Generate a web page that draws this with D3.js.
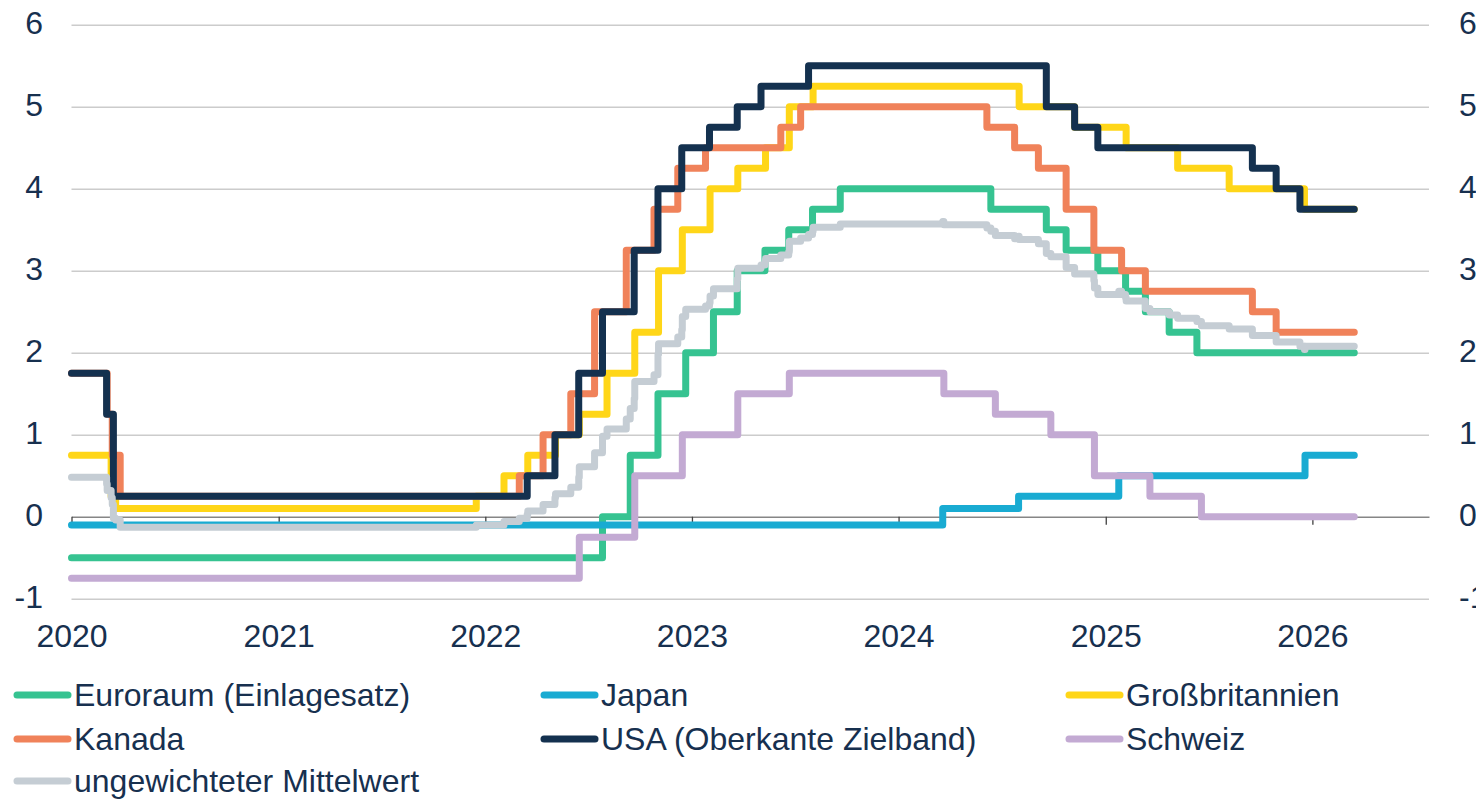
<!DOCTYPE html>
<html>
<head>
<meta charset="utf-8">
<script src="https://cdn.jsdelivr.net/npm/d3@7"></script>
<style>
  body { margin: 0; background: #fff; }
  svg text { font-family: 'Liberation Sans', Arial, sans-serif; fill: #17304f; }
</style>
</head>
<body>
<svg id="chart"></svg>
<script>
const d3 = window.d3

// policy rates in %, [date of change, new rate]
const euroRates = [
  ['2020-01-01', -0.5], ['2022-07-27', 0], ['2022-09-14', 0.75], ['2022-11-02', 1.5],
  ['2022-12-21', 2], ['2023-02-08', 2.5], ['2023-03-22', 3], ['2023-05-10', 3.25],
  ['2023-06-21', 3.5], ['2023-08-02', 3.75], ['2023-09-20', 4], ['2024-06-12', 3.75],
  ['2024-09-18', 3.5], ['2024-10-23', 3.25], ['2024-12-18', 3], ['2025-02-05', 2.75],
  ['2025-03-12', 2.5], ['2025-04-23', 2.25], ['2025-06-11', 2]
]
const japanRates = [
  ['2020-01-01', -0.1], ['2024-03-19', 0.1], ['2024-07-31', 0.25], ['2025-01-24', 0.5],
  ['2025-12-19', 0.75]
]
const ukRates = [
  ['2020-01-01', 0.75], ['2020-03-11', 0.25], ['2020-03-19', 0.1], ['2021-12-16', 0.25],
  ['2022-02-03', 0.5], ['2022-03-17', 0.75], ['2022-05-05', 1], ['2022-06-16', 1.25],
  ['2022-08-04', 1.75], ['2022-09-22', 2.25], ['2022-11-03', 3], ['2022-12-15', 3.5],
  ['2023-02-02', 4], ['2023-03-23', 4.25], ['2023-05-11', 4.5], ['2023-06-22', 5],
  ['2023-08-03', 5.25], ['2024-08-01', 5], ['2024-11-07', 4.75], ['2025-02-06', 4.5],
  ['2025-05-08', 4.25], ['2025-08-07', 4], ['2025-12-18', 3.75]
]
const canadaRates = [
  ['2020-01-01', 1.75], ['2020-03-04', 1.25], ['2020-03-13', 0.75], ['2020-03-27', 0.25],
  ['2022-03-02', 0.5], ['2022-04-13', 1], ['2022-06-01', 1.5], ['2022-07-13', 2.5],
  ['2022-09-07', 3.25], ['2022-10-26', 3.75], ['2022-12-07', 4.25], ['2023-01-25', 4.5],
  ['2023-06-07', 4.75], ['2023-07-12', 5], ['2024-06-05', 4.75], ['2024-07-24', 4.5],
  ['2024-09-04', 4.25], ['2024-10-23', 3.75], ['2024-12-11', 3.25], ['2025-01-29', 3],
  ['2025-03-12', 2.75], ['2025-09-17', 2.5], ['2025-10-29', 2.25]
]
const usaRates = [
  ['2020-01-01', 1.75], ['2020-03-03', 1.25], ['2020-03-15', 0.25], ['2022-03-16', 0.5],
  ['2022-05-04', 1], ['2022-06-15', 1.75], ['2022-07-27', 2.5], ['2022-09-21', 3.25],
  ['2022-11-02', 4], ['2022-12-14', 4.5], ['2023-02-01', 4.75], ['2023-03-22', 5],
  ['2023-05-03', 5.25], ['2023-07-26', 5.5], ['2024-09-18', 5], ['2024-11-07', 4.75],
  ['2024-12-18', 4.5], ['2025-09-17', 4.25], ['2025-10-29', 4], ['2025-12-10', 3.75]
]
const swissRates = [
  ['2020-01-01', -0.75], ['2022-06-16', -0.25], ['2022-09-22', 0.5], ['2022-12-15', 1],
  ['2023-03-23', 1.5], ['2023-06-22', 1.75], ['2024-03-21', 1.5], ['2024-06-20', 1.25],
  ['2024-09-26', 1], ['2024-12-12', 0.5], ['2025-03-20', 0.25], ['2025-06-19', 0]
]
// unweighted mean of the six rates, read at every change date
const meanRates = [
  ['2020-01-01', 0.48], ['2020-03-03', 0.40], ['2020-03-04', 0.32], ['2020-03-11', 0.23],
  ['2020-03-13', 0.15], ['2020-03-15', -0.02], ['2020-03-19', -0.04], ['2020-03-27', -0.13],
  ['2021-12-16', -0.10], ['2022-02-03', -0.06], ['2022-03-02', -0.02], ['2022-03-16', 0.03],
  ['2022-03-17', 0.07], ['2022-04-13', 0.15], ['2022-05-04', 0.23], ['2022-05-05', 0.28],
  ['2022-06-01', 0.36], ['2022-06-15', 0.48], ['2022-06-16', 0.61], ['2022-07-13', 0.78],
  ['2022-07-27', 0.98], ['2022-08-04', 1.07], ['2022-09-07', 1.19], ['2022-09-14', 1.32],
  ['2022-09-21', 1.44], ['2022-09-22', 1.65], ['2022-10-26', 1.73], ['2022-11-02', 1.98],
  ['2022-11-03', 2.11], ['2022-12-07', 2.19], ['2022-12-14', 2.28], ['2022-12-15', 2.44],
  ['2022-12-21', 2.53], ['2023-01-25', 2.57], ['2023-02-01', 2.61], ['2023-02-02', 2.69],
  ['2023-02-08', 2.78], ['2023-03-22', 2.90], ['2023-03-23', 3.03], ['2023-05-03', 3.07],
  ['2023-05-10', 3.11], ['2023-05-11', 3.15], ['2023-06-07', 3.19], ['2023-06-21', 3.23],
  ['2023-06-22', 3.36], ['2023-07-12', 3.40], ['2023-07-26', 3.44], ['2023-08-02', 3.48],
  ['2023-08-03', 3.53], ['2023-09-20', 3.57], ['2024-03-19', 3.60], ['2024-03-21', 3.56],
  ['2024-06-05', 3.52], ['2024-06-12', 3.48], ['2024-06-20', 3.43], ['2024-07-24', 3.39],
  ['2024-07-31', 3.42], ['2024-08-01', 3.38], ['2024-09-04', 3.33], ['2024-09-18', 3.21],
  ['2024-09-26', 3.17], ['2024-10-23', 3.04], ['2024-11-07', 2.96], ['2024-12-11', 2.88],
  ['2024-12-12', 2.79], ['2024-12-18', 2.71], ['2025-01-24', 2.75], ['2025-01-29', 2.71],
  ['2025-02-05', 2.67], ['2025-02-06', 2.63], ['2025-03-12', 2.54], ['2025-03-20', 2.50],
  ['2025-04-23', 2.46], ['2025-05-08', 2.42], ['2025-06-11', 2.38], ['2025-06-19', 2.33],
  ['2025-08-07', 2.29], ['2025-09-17', 2.21], ['2025-10-29', 2.13], ['2025-12-10', 2.08],
  ['2025-12-18', 2.04], ['2025-12-19', 2.08]
]
const lastDate = '2026-03-16'
const yearTicks = ['2020', '2021', '2022', '2023', '2024', '2025', '2026']
const rateTicks = [-1, 0, 1, 2, 3, 4, 5, 6]

const series = [
  {name: 'Euroraum (Einlagesatz)', color: '#36c391', data: euroRates},
  {name: 'Japan', color: '#19abd2', data: japanRates},
  {name: 'Großbritannien', color: '#ffd618', data: ukRates},
  {name: 'Kanada', color: '#f0825a', data: canadaRates},
  {name: 'USA (Oberkante Zielband)', color: '#14314f', data: usaRates},
  {name: 'Schweiz', color: '#c3aad3', data: swissRates},
  {name: 'ungewichteter Mittelwert', color: '#c5cdd4', data: meanRates}
]

const width = 1476
const height = 799
const left = 71.5
const right = 1429
const parse = d3.timeParse('%Y-%m-%d')

const svg = d3.select('#chart').attr('width', width).attr('height', height)

const x = d3.scaleTime()
  .domain([parse('2020-01-01'), parse('2026-07-26')])
  .range([left, right])
const y = d3.scaleLinear().domain([-1, 6]).range([598.7, 24.7])

// grid
const grid = svg.append('g')
  .attr('transform', `translate(${left},0)`)
  .call(d3.axisRight(y).tickValues(rateTicks.filter(v => v !== 0)).tickSize(right - left).tickFormat(''))
grid.select('.domain').remove()
grid.selectAll('line').attr('stroke', '#cccccc').attr('stroke-width', 1.4)

// value labels, left and right (the right ones run off the page, as in the original)
const rateFormat = d => String(d) // plain hyphen for the minus
const leftAxis = svg.append('g')
  .attr('transform', 'translate(43,0)')
  .call(d3.axisLeft(y).tickValues(rateTicks).tickSize(0).tickPadding(0).tickFormat(rateFormat))
const rightAxis = svg.append('g')
  .attr('transform', 'translate(1459,0)')
  .call(d3.axisRight(y).tickValues(rateTicks).tickSize(0).tickPadding(0).tickFormat(rateFormat))
;[leftAxis, rightAxis].forEach(g => {
  g.select('.domain').remove()
  g.selectAll('text').attr('font-size', 32).attr('dy', '0.27em')
    .style('font-family', "'Liberation Sans', Arial, sans-serif").attr('fill', '#17304f')
})

// zero line with year ticks
const yearDates = yearTicks.map(t => parse(t + '-01-01'))
const zeroAxis = svg.append('g')
  .attr('transform', `translate(0,${y(0)})`)
  .call(d3.axisBottom(x).tickValues(yearDates).tickSize(8).tickSizeOuter(0).tickFormat(''))
zeroAxis.select('.domain').attr('stroke', '#868686').attr('stroke-width', 1.6)
zeroAxis.selectAll('line').attr('stroke', '#404040').attr('stroke-width', 1.3)

const yearAxis = svg.append('g')
  .attr('transform', 'translate(0,624)')
  .call(d3.axisBottom(x).tickValues(yearDates).tickSize(0).tickPadding(0).tickFormat(d3.timeFormat('%Y')))
yearAxis.select('.domain').remove()
yearAxis.selectAll('text').attr('font-size', 32)
  .style('font-family', "'Liberation Sans', Arial, sans-serif").attr('fill', '#17304f')

// step lines
const line = d3.line()
  .x(d => x(d[0]))
  .y(d => y(d[1]))
  .curve(d3.curveStepAfter)

series.forEach(s => {
  const points = s.data.map(d => [parse(d[0]), d[1]])
  points.push([parse(lastDate), s.data[s.data.length - 1][1]])
  svg.append('path')
    .datum(points)
    .attr('fill', 'none')
    .attr('stroke', s.color)
    .attr('stroke-width', 7)
    .attr('stroke-linejoin', 'round')
    .attr('stroke-linecap', 'round')
    .attr('d', line)
})

// legend, three columns
const legendCols = [14, 541, 1066]
const legendRows = [706, 750, 792]
const legend = svg.append('g')
series.forEach((s, i) => {
  const lx = legendCols[i % 3]
  const ly = legendRows[Math.floor(i / 3)]
  legend.append('line')
    .attr('x1', lx + 3).attr('x2', lx + 54)
    .attr('y1', ly - 11).attr('y2', ly - 11)
    .attr('stroke', s.color).attr('stroke-width', 7).attr('stroke-linecap', 'round')
  legend.append('text')
    .attr('x', lx + 60).attr('y', ly)
    .attr('font-size', 32)
    .text(s.name)
})
</script>
</body>
</html>
